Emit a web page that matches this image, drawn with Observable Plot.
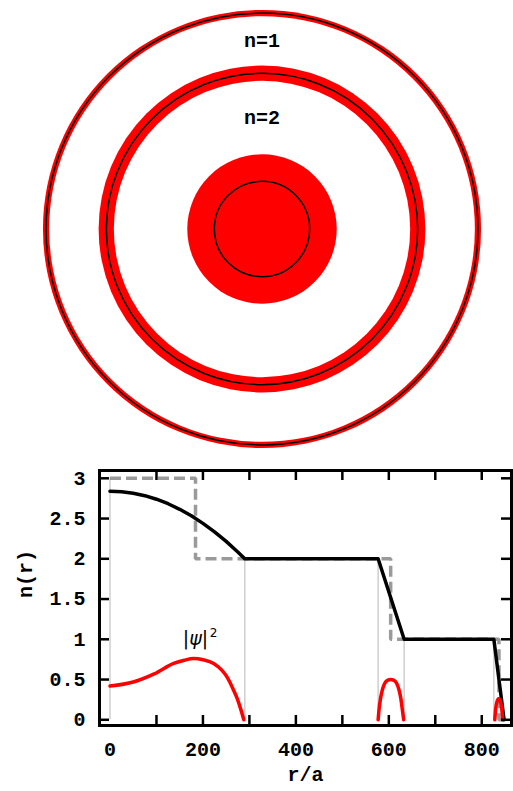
<!DOCTYPE html>
<html><head><meta charset="utf-8">
<script src="https://cdn.jsdelivr.net/npm/d3@7"></script>
<script src="https://cdn.jsdelivr.net/npm/@observablehq/plot@0.6"></script>
<style>body{margin:0;background:#fff} svg{display:block}</style>
</head><body><div id="chart"></div>
<script>
// ---- data ----
// top diagram: red annuli (outer/inner radius, r/a units) and step boundaries
const ringOuter = [850, 634, 290];
const ringInner = [826, 575, 0];
const stepRadii = [838, 604, 185];
const ringLabels = ["n=1", "n=2"];

// graded index profile n(r)
const profileR = [0, 25, 50, 75, 100, 125, 150, 175, 200, 225, 250, 275, 290, 577, 633, 826, 848];
const profileN = [2.84, 2.834, 2.815, 2.784, 2.74, 2.684, 2.615, 2.534, 2.44, 2.334, 2.216, 2.085, 2.0, 2.0, 1.0, 1.0, 0.0];

// step index (dashed)
const stepR = [0, 184, 184, 604, 604, 837, 837, 848];
const stepN = [3, 3, 2, 2, 1, 1, 0, 0];

// thin boundary rules
const ruleR = [0, 290, 577, 633, 826];
const ruleTop = [3, 2, 2, 1, 1];

// |psi|^2 in each guiding region
const psiCoreR = [0, 50, 95, 137, 160, 180, 200, 223, 240, 252, 265, 274, 282, 288];
const psiCoreV = [0.42, 0.47, 0.57, 0.70, 0.74, 0.76, 0.745, 0.70, 0.62, 0.53, 0.38, 0.26, 0.12, 0.0];
const psiRing2R = [577, 579, 582, 586, 591, 597, 604, 611, 617, 622, 626, 629, 632];
const psiRing2V = [0, 0.13, 0.26, 0.37, 0.45, 0.49, 0.5, 0.49, 0.45, 0.37, 0.26, 0.13, 0];
const psiRing3R = [828, 830, 833, 836.5, 840, 843, 845];
const psiRing3V = [0, 0.14, 0.23, 0.26, 0.23, 0.14, 0];

const xTicks = [100, 200, 300, 400, 500, 600, 700, 800];
const xLabels = [0, 200, 400, 600, 800];
const yTicks = [0, 0.5, 1, 1.5, 2, 2.5, 3];
const psiLabel = {r: 184, v: 1.0};

// ---- build tables ----
const disks = [];
ringOuter.forEach((o, i) => {
  disks.push({r: o, fill: "#ff0000"});
  if (ringInner[i] > 0) disks.push({r: ringInner[i], fill: "#ffffff"});
});
const profile = profileR.map((r, i) => ({r, n: profileN[i]}));
const step = stepR.map((r, i) => ({r, n: stepN[i]}));
const rules = ruleR.map((r, i) => ({r, top: ruleTop[i]}));
const psi = [
  ...psiCoreR.map((r, i) => ({r, v: psiCoreV[i], mode: 0})),
  ...psiRing2R.map((r, i) => ({r, v: psiRing2V[i], mode: 1})),
  ...psiRing3R.map((r, i) => ({r, v: psiRing3V[i], mode: 2}))
];
const labels = ringLabels.map((t, i) => ({t, y: (ringOuter[i + 1] + ringInner[i]) / 2}));

const font = "'Liberation Mono', 'DejaVu Sans Mono', monospace";
const W = 513, H1 = 455, cx = 261.5, cy = 228.5, k = 0.2577;

const topChart = Plot.plot({
  width: W, height: H1,
  marginTop: 0, marginBottom: 0, marginLeft: 0, marginRight: 0,
  x: {domain: [-cx / k, (W - cx) / k], range: [0, W], axis: null},
  y: {domain: [-(H1 - cy) / k, cy / k], range: [H1, 0], axis: null},
  r: {type: "linear", domain: [0, 1000], range: [0, 1000 * k]},
  color: {type: "identity"},
  style: {fontFamily: font, fontSize: "20px", fontWeight: "bold", background: "white"},
  marks: [
    Plot.dot(disks, {x: () => 0, y: () => 0, r: "r", fill: "fill", stroke: null}),
    Plot.dot(stepRadii, {x: () => 0, y: () => 0, r: d => d, fill: "none", stroke: "black", strokeWidth: 1.5}),
    Plot.text(labels, {x: () => 0, y: "y", text: "t", fill: "black"})
  ]
});

// bottom chart geometry
const H2 = 336, mT = 15, mB = 66, mL = 99, mR = 2;
const xDom = [-22.6, 864], yDom = [-0.071, 3.097];
const tickLen = 10;
const pxX = (W - mL - mR) / (xDom[1] - xDom[0]);
const pxY = (H2 - mT - mB) / (yDom[1] - yDom[0]);
const tx = tickLen / pxX, ty = tickLen / pxY;

const bottomChart = Plot.plot({
  width: W, height: H2,
  marginTop: mT, marginBottom: mB, marginLeft: mL, marginRight: mR,
  x: {domain: xDom, axis: null},
  y: {domain: yDom, axis: null},
  style: {fontFamily: font, fontSize: "20px", fontWeight: "bold", background: "white"},
  marks: [
    Plot.ruleX(rules, {x: "r", y1: () => 0, y2: "top", stroke: "#cfcfcf", strokeWidth: 1.5}),
    Plot.line(step, {x: "r", y: "n", stroke: "#9a9a9a", strokeWidth: 3.5, strokeDasharray: "11,5", strokeLinecap: "butt", strokeLinejoin: "miter"}),
    Plot.line(profile, {x: "r", y: "n", stroke: "black", strokeWidth: 3.5}),
    Plot.line(psi, {x: "r", y: "v", z: "mode", stroke: "#ff0000", strokeWidth: 3.5, curve: "monotone-x"}),
    Plot.ruleX(xTicks, {x: d => d, y1: () => yDom[0], y2: () => yDom[0] + ty, stroke: "black", strokeWidth: 2.5}),
    Plot.ruleX(xTicks, {x: d => d, y1: () => yDom[1], y2: () => yDom[1] - ty, stroke: "black", strokeWidth: 2.5}),
    Plot.ruleY(yTicks, {y: d => d, x1: () => xDom[0], x2: () => xDom[0] + tx, stroke: "black", strokeWidth: 2.5}),
    Plot.ruleY(yTicks, {y: d => d, x1: () => xDom[1], x2: () => xDom[1] - tx, stroke: "black", strokeWidth: 2.5}),
    Plot.frame({stroke: "black", strokeWidth: 3}),
    Plot.axisX({ticks: xLabels, tickSize: 0, tickPadding: 16, tickFormat: d => String(d), label: null, fill: "black"}),
    Plot.axisY({ticks: yTicks, tickSize: 0, tickPadding: 14, tickFormat: d => String(d), label: null, fill: "black"}),
    Plot.text(["n(r)"], {text: d => d, frameAnchor: "left", dx: -74, rotate: -90, fill: "black"}),
    Plot.text(["r/a"], {text: d => d, frameAnchor: "bottom", dy: 55, fill: "black"}),
    Plot.text([psiLabel], {x: "r", y: "v", text: () => "|ψ|", fontFamily: "DejaVu Sans", fontStyle: "italic", fontWeight: "normal", fontSize: 19, fill: "black"}),
    Plot.text([psiLabel], {x: "r", y: "v", text: () => "2", dx: 18, dy: -6, fontFamily: "DejaVu Sans", fontWeight: "normal", fontSize: 12, fill: "black"})
  ]
});

const root = document.getElementById("chart");
root.appendChild(topChart);
root.appendChild(bottomChart);
</script></body></html>
